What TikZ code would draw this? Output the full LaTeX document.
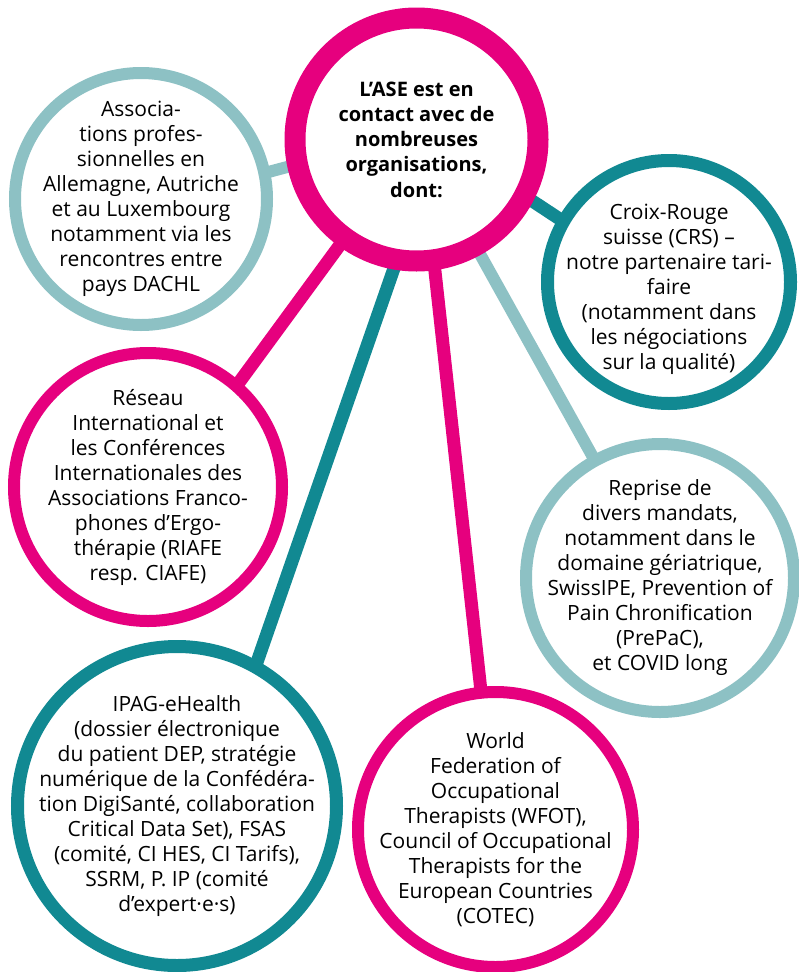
\documentclass[tikz,border=0pt]{standalone}
\usepackage{fontspec}
\setmainfont{Open Sans}
\usetikzlibrary{backgrounds}
\definecolor{asepink}{RGB}{230,0,126}
\definecolor{asedark}{RGB}{17,137,146}
\definecolor{aselight}{RGB}{141,193,196}
\tikzset{
  ring/.style={circle, draw, fill=white, inner sep=0pt},
  txt/.style={align=center, inner sep=0pt, font=\fontsize{21}{25}\selectfont},
  link/.style={shorten <=-14pt, shorten >=-14pt},
}

\begin{document}
\begin{tikzpicture}[x=1pt, y=-1pt]

  \useasboundingbox (0,0) rectangle (798,972);

  % Define nodes
  \node[ring, draw=asepink, line width=21pt, minimum size=243pt]  (ase)     at (416.5,139.5) {};
  \node[ring, draw=aselight, line width=12pt, minimum size=252pt] (assoc)   at (141,199)     {};
  \node[ring, draw=asedark, line width=13pt, minimum size=243pt]  (crs)     at (669,282)     {};
  \node[ring, draw=asepink, line width=12pt, minimum size=268pt]  (riafe)   at (148,487)     {};
  \node[ring, draw=aselight, line width=12pt, minimum size=268pt] (reprise) at (660,578)     {};
  \node[ring, draw=asedark, line width=13pt, minimum size=319pt]  (ipag)    at (177,806)     {};
  \node[ring, draw=asepink, line width=12pt, minimum size=275pt]  (wfot)    at (495.5,829.5) {};

  % Texts
  \node[txt, font=\fontsize{20}{25.3}\selectfont\bfseries] (ase-t) at (ase)
    {L’ASE est en\\contact avec de\\nombreuses\\organisations,\\dont:};
  \node[txt] (assoc-t) at (assoc)
    {Associa-\\tions profes-\\sionnelles en\\Allemagne, Autriche\\et au Luxembourg\\notamment via les\\rencontres entre\\pays DACHL};
  \node[txt, yshift=-7pt] (crs-t) at (crs)
    {Croix-Rouge\\suisse (CRS) –\\notre partenaire tari-\\faire\\(notamment dans\\les négociations\\sur la qualité)};
  \node[txt] (riafe-t) at (riafe)
    {Réseau\\International et\\les Conférences\\Internationales des\\Associations Franco-\\phones d’Ergo-\\thérapie (RIAFE\\resp. CIAFE)};
  \node[txt] (reprise-t) at (reprise)
    {Reprise de\\divers mandats,\\notamment dans le\\domaine gériatrique,\\SwissIPE, Prevention of\\Pain Chronification\\(PrePaC),\\et COVID long};
  \node[txt] (ipag-t) at (ipag)
    {IPAG-eHealth\\(dossier électronique\\du patient DEP, stratégie\\numérique de la Confédéra-\\tion DigiSanté, collaboration\\Critical Data Set), FSAS\\(comité, CI HES, CI Tarifs),\\SSRM, P. IP (comité\\d’expert·e·s)};
  \node[txt] (wfot-t) at (wfot)
    {World\\Federation of\\Occupational\\Therapists (WFOT),\\Council of Occupational\\Therapists for the\\European Countries\\(COTEC)};

  % Connect the nodes
  \begin{scope}[on background layer]
    \draw[link, aselight, line width=12pt] (ase.192)  -- (assoc.12);
    \draw[link, asedark, line width=13pt]  (ase.-28)  -- (crs.150);
    \draw[link, asepink, line width=13pt]  (ase.-126) -- (riafe.49);
    \draw[link, aselight, line width=12pt] (ase.-61)  -- (reprise.119);
    \draw[link, asedark, line width=13pt]  (ase.-100) -- (ipag.61);
    \draw[link, asepink, line width=13pt]  (ase.-82)  -- (wfot.96);
  \end{scope}

\end{tikzpicture}
\end{document}
